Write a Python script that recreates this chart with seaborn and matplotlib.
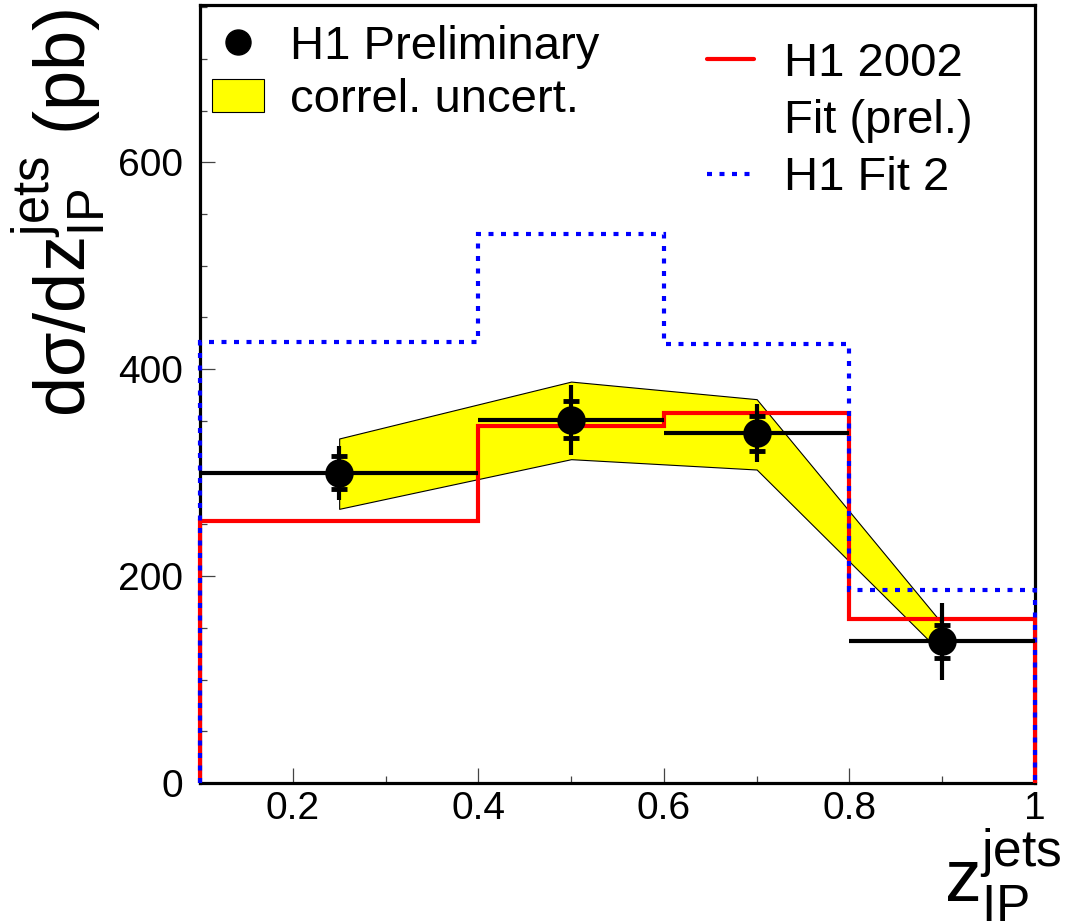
import numpy as np
import matplotlib
matplotlib.use("Agg")
import matplotlib.pyplot as plt
from matplotlib.lines import Line2D
from matplotlib.patches import Patch
from matplotlib.ticker import FixedLocator, MultipleLocator
import seaborn as sns
import pandas as pd

# ---------------- data ----------------
bin_edges = [0.1, 0.4, 0.6, 0.8, 1.0]
x_centers = [0.25, 0.5, 0.7, 0.9]
h1_data = [300, 351, 338, 137]
stat_err = [16, 18, 17, 16]
total_err = [26, 34, 28, 37]

band_hi = [333, 388, 371, 154]
band_lo = [265, 313, 303, 125]

fit_2002 = [253, 345, 358, 159]
fit_2 = [426, 531, 424, 187]

xtick_vals = [0.2, 0.4, 0.6, 0.8, 1.0]
xtick_labels = ["0.2", "0.4", "0.6", "0.8", "1"]
ytick_vals = [0, 200, 400, 600]
ytick_labels = ["0", "200", "400", "600"]

# ---------------- style ----------------
sns.set_theme(style="ticks")
plt.rcParams["font.family"] = ["Liberation Sans", "DejaVu Sans"]
plt.rcParams["mathtext.fontset"] = "custom"
plt.rcParams["mathtext.rm"] = "Liberation Sans"
plt.rcParams["mathtext.it"] = "Liberation Sans:italic"
plt.rcParams["mathtext.bf"] = "Liberation Sans:bold"
plt.rcParams["text.color"] = "black"
plt.rcParams["axes.labelcolor"] = "black"
plt.rcParams["xtick.labelcolor"] = "black"
plt.rcParams["ytick.labelcolor"] = "black"

fig = plt.figure(figsize=(10.67, 9.23), dpi=100)
ax = fig.add_axes([200 / 1067, 1 - 783 / 923, 835 / 1067, 778 / 923])

df = pd.DataFrame({"x": x_centers, "y": h1_data})
x = np.array(x_centers)
y = np.array(h1_data)
edges = np.array(bin_edges)

# correlated uncertainty band
ax.fill_between(x_centers, band_lo, band_hi, facecolor="#ffff00",
                edgecolor="black", linewidth=0.8, zorder=1)

# model histograms
ax.stairs(fit_2002, bin_edges, baseline=0, color="#ff0000", linewidth=3,
          zorder=3, clip_on=False)
ax.stairs(fit_2, bin_edges, baseline=0, color="#0000ff", linewidth=3,
          linestyle=(0, (1.2, 1.8)), zorder=3.1, clip_on=False)

# data error bars
xerr = [x - edges[:-1], edges[1:] - x]
ax.errorbar(x, y, xerr=xerr, yerr=total_err, fmt="none", ecolor="black",
            elinewidth=3, capsize=0, zorder=4)
ax.plot(x, y + np.array(stat_err), linestyle="none", marker="_",
        markersize=12, markeredgewidth=3.5, color="black", zorder=4)
ax.plot(x, y - np.array(stat_err), linestyle="none", marker="_",
        markersize=12, markeredgewidth=3.5, color="black", zorder=4)
sns.scatterplot(data=df, x="x", y="y", ax=ax, color="black", s=420,
                linewidth=0, zorder=5, legend=False)

# axes
ax.set_xlim(0.1, 1.0)
ax.set_ylim(0, 752)
ax.xaxis.set_major_locator(FixedLocator(xtick_vals))
ax.set_xticklabels(xtick_labels)
ax.xaxis.set_minor_locator(MultipleLocator(0.1))
ax.yaxis.set_major_locator(FixedLocator(ytick_vals))
ax.set_yticklabels(ytick_labels)
ax.yaxis.set_minor_locator(MultipleLocator(50))
ax.tick_params(which="both", direction="in", top=False, right=False,
               color="#444444", width=0.9, labelsize=28,
               labelcolor="black")
ax.tick_params(which="major", length=11)
ax.tick_params(which="minor", length=5)
ax.tick_params(axis="x", pad=6)
ax.tick_params(axis="y", pad=12)
for sp in ax.spines.values():
    sp.set_linewidth(2.3)
    sp.set_color("black")
    sp.set_visible(True)
ax.grid(False)
ax.set_facecolor("white")

ax.set_ylabel("d\u03c3/d$\\mathrm{z}^{\\mathrm{jets}}_{\\mathrm{IP}}$ (pb)",
              fontsize=52, loc="top", va="center", color="black")
ax.yaxis.set_label_coords(-0.168, 0.995)
ax.set_xlabel("$\\mathrm{z}^{\\mathrm{jets}}_{\\mathrm{IP}}$", fontsize=53,
              loc="right", va="top", color="black")
ax.xaxis.set_label_coords(1.032, -0.056)

# legends
h_data = Line2D([], [], linestyle="none", marker="o", markersize=18,
                color="black")
h_band = Patch(facecolor="#ffff00", edgecolor="black", linewidth=0.8)
leg1 = ax.legend([h_data, h_band], ["H1 Preliminary", "correl. uncert."],
                 loc="upper left", bbox_to_anchor=(212 / 1067, 1 - 25 / 923),
                 bbox_transform=fig.transFigure, frameon=False, fontsize=34,
                 borderpad=0, borderaxespad=0, handlelength=1.1,
                 handletextpad=0.55, labelspacing=0.2)
ax.add_artist(leg1)
h_red = Line2D([], [], color="#ff0000", linewidth=3)
h_none = Line2D([], [], color="none", linewidth=0)
h_blue = Line2D([], [], color="#0000ff", linewidth=3,
                linestyle=(0, (1.2, 1.8)))
ax.legend([h_red, h_none, h_blue], ["H1 2002", "Fit (prel.)", "H1 Fit 2"],
          loc="upper left", bbox_to_anchor=(707 / 1067, 1 - 42 / 923),
          bbox_transform=fig.transFigure, frameon=False, fontsize=34,
          borderpad=0, borderaxespad=0, handlelength=1.0,
          handletextpad=0.62, labelspacing=0.28)

fig.savefig("out.png", dpi=100, facecolor="white")
